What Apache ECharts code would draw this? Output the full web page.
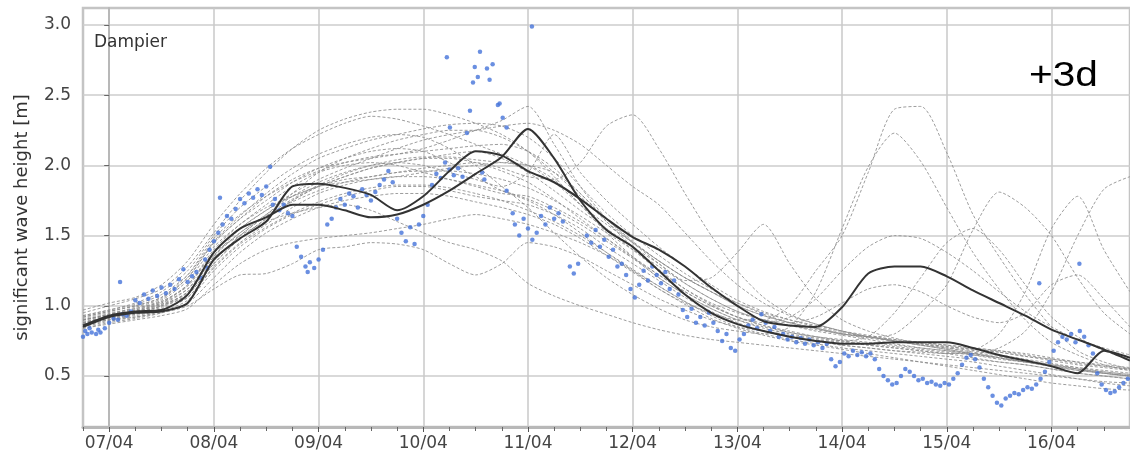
<!DOCTYPE html>
<html><head><meta charset="utf-8">
<script src="https://cdn.jsdelivr.net/npm/echarts@6/dist/echarts.min.js"></script>
<style>html,body{margin:0;padding:0;background:#fff}#chart{width:1130px;height:459px}</style>
</head><body><div id="chart"></div>
<script>
// lead time in hours from 07/04 00:00
const leadHours = [-6,0,6,12,18,24,30,36,42,48,54,60,66,72,78,84,90,96,102,108,114,120,126,132,138,144,150,156,162,168,174,180,186,192,198,204,210,216,222,228,234];
const dayTickHours = [0,24,48,72,96,120,144,168,192,216];
const dayTickLabels = ['07/04','08/04','09/04','10/04','11/04','12/04','13/04','14/04','15/04','16/04'];
const sixHourTicks = [-6,0,6,12,18,24,30,36,42,48,54,60,66,72,78,84,90,96,102,108,114,120,126,132,138,144,150,156,162,168,174,180,186,192,198,204,210,216,222,228,234];
const yTickValues = [0.5,1.0,1.5,2.0,2.5,3.0];

const member01 = [0.95,1.00,1.05,1.12,1.28,1.52,1.75,1.95,2.12,2.25,2.33,2.38,2.40,2.40,2.36,2.30,2.22,2.10,1.92,1.72,1.55,1.40,1.25,1.12,1.02,0.95,0.90,0.86,0.83,0.80,0.78,0.76,0.74,0.72,0.70,0.68,0.65,0.62,0.60,0.57,0.55];
const member02 = [0.88,0.90,0.92,0.95,1.00,1.12,1.22,1.23,1.30,1.40,1.42,1.45,1.44,1.40,1.30,1.22,1.30,1.45,1.42,1.35,1.25,1.15,1.05,0.97,0.90,0.85,0.82,0.79,0.76,0.74,0.72,0.70,0.68,0.66,0.63,0.60,0.58,0.55,0.52,0.50,0.48];
const member03 = [0.90,0.93,0.97,1.02,1.15,1.38,1.50,1.60,1.66,1.70,1.72,1.68,1.60,1.52,1.45,1.40,1.32,1.16,1.07,1.00,0.94,0.88,0.83,0.79,0.76,0.74,0.72,0.70,0.68,0.66,0.64,0.62,0.60,0.58,0.56,0.54,0.52,0.50,0.48,0.46,0.45];
const member04 = [0.92,0.96,1.00,1.06,1.20,1.45,1.62,1.78,1.90,1.98,2.02,2.05,2.08,2.12,2.18,2.25,2.32,2.42,2.15,1.85,1.62,1.45,1.30,1.16,1.05,0.96,0.90,0.86,0.82,0.79,0.76,0.73,0.70,0.68,0.66,0.63,0.60,0.57,0.54,0.52,0.50];
const member05 = [0.87,0.91,0.95,1.00,1.10,1.35,1.52,1.65,1.78,1.88,1.95,2.00,2.02,2.00,1.95,1.90,1.85,1.95,2.22,1.95,1.75,1.58,1.42,1.28,1.15,1.04,0.96,0.90,0.85,0.81,0.78,0.75,0.72,0.69,0.66,0.63,0.60,0.57,0.55,0.52,0.50];
const member06 = [0.90,0.94,0.98,1.04,1.18,1.42,1.58,1.70,1.78,1.85,1.90,1.92,1.95,1.98,2.00,2.02,1.98,1.92,1.90,2.02,2.28,2.36,2.12,1.80,1.50,1.25,1.06,0.94,0.87,0.82,0.78,0.75,0.72,0.69,0.66,0.63,0.60,0.58,0.55,0.53,0.51];
const member07 = [0.86,0.90,0.94,0.99,1.08,1.30,1.48,1.62,1.75,1.85,1.92,1.98,2.02,2.05,2.08,2.10,2.05,1.95,1.82,1.68,1.55,1.42,1.30,1.18,1.20,1.38,1.58,1.30,1.05,0.90,0.82,0.77,0.73,0.70,0.67,0.64,0.61,0.58,0.55,0.52,0.50];
const member08 = [0.90,0.94,0.99,1.05,1.20,1.45,1.62,1.75,1.88,1.98,2.05,2.10,2.12,2.10,2.02,1.92,1.82,1.75,1.65,1.52,1.38,1.25,1.12,1.02,0.95,0.90,0.90,1.00,1.25,1.50,1.95,2.40,2.42,2.09,1.65,1.35,1.08,0.85,0.68,0.60,0.55];
const member09 = [0.93,0.97,1.02,1.10,1.25,1.50,1.70,1.85,1.98,2.08,2.15,2.20,2.22,2.20,2.12,2.00,1.85,1.70,1.52,1.35,1.20,1.08,0.98,0.90,0.85,0.82,0.80,0.85,1.10,1.55,1.99,2.23,2.03,1.70,1.38,1.12,0.90,0.74,0.65,0.58,0.54];
const member10 = [0.88,0.92,0.96,1.02,1.12,1.32,1.50,1.65,1.80,1.95,2.05,2.12,2.18,2.22,2.25,2.25,2.20,2.10,1.95,1.78,1.60,1.45,1.32,1.20,1.10,1.00,0.93,0.88,0.84,0.80,0.78,0.80,0.95,1.15,1.54,1.81,1.70,1.50,1.20,0.95,0.80];
const member11 = [0.91,0.95,0.98,1.03,1.15,1.40,1.58,1.72,1.85,1.95,2.00,2.02,2.00,1.95,1.90,1.85,1.80,1.78,1.70,1.60,1.48,1.35,1.22,1.10,1.00,0.92,0.86,0.82,0.78,0.75,0.72,0.70,0.68,0.66,0.66,0.70,0.82,1.10,1.50,1.83,1.92];
const member12 = [0.85,0.89,0.92,0.96,1.04,1.25,1.42,1.55,1.65,1.72,1.78,1.82,1.85,1.85,1.82,1.78,1.75,1.72,1.65,1.55,1.42,1.30,1.18,1.06,0.96,0.88,0.82,0.78,0.75,0.72,0.70,0.68,0.66,0.64,0.62,0.60,0.58,0.55,0.52,0.50,0.48];
const member13 = [0.89,0.92,0.95,1.00,1.10,1.35,1.55,1.68,1.78,1.85,1.88,1.90,1.92,1.95,1.98,2.00,2.02,2.00,1.90,1.72,1.52,1.35,1.20,1.08,0.98,0.90,0.85,0.81,0.78,0.76,0.74,0.72,0.70,0.68,0.65,0.62,0.60,0.57,0.54,0.52,0.50];
const member14 = [0.97,1.02,1.06,1.15,1.32,1.58,1.80,1.98,2.12,2.22,2.30,2.35,2.33,2.28,2.22,2.15,2.08,2.00,1.88,1.72,1.58,1.45,1.32,1.20,1.10,1.00,0.93,0.88,0.84,0.80,0.78,0.75,0.73,0.71,0.69,0.67,0.64,0.61,0.58,0.56,0.54];
const member15 = [0.84,0.87,0.90,0.93,0.98,1.15,1.30,1.40,1.45,1.48,1.50,1.52,1.55,1.58,1.62,1.65,1.62,1.58,1.52,1.45,1.36,1.25,1.14,1.03,0.93,0.85,0.80,0.76,0.73,0.70,0.68,0.66,0.64,0.62,0.60,0.57,0.54,0.51,0.48,0.45,0.43];
const member16 = [0.92,0.96,1.00,1.06,1.22,1.48,1.65,1.78,1.88,1.96,2.02,2.06,2.08,2.10,2.12,2.14,2.15,2.10,1.98,1.80,1.62,1.46,1.32,1.20,1.10,1.02,0.95,0.90,0.86,0.82,0.79,0.76,0.74,0.72,0.70,0.68,0.66,0.63,0.60,0.58,0.56];
const member17 = [0.87,0.91,0.94,0.98,1.06,1.28,1.45,1.58,1.70,1.80,1.86,1.90,1.92,1.92,1.90,1.86,1.82,1.76,1.68,1.58,1.46,1.34,1.22,1.10,1.00,0.92,0.88,0.92,1.05,1.25,1.42,1.50,1.48,1.38,1.25,1.10,0.96,0.85,0.76,0.70,0.65];
const member18 = [0.90,0.94,0.97,1.03,1.14,1.38,1.55,1.68,1.80,1.90,1.98,2.05,2.12,2.18,2.22,2.25,2.28,2.30,2.25,2.15,2.00,1.85,1.72,1.52,1.32,1.15,1.02,0.93,0.87,0.82,0.78,0.75,0.72,0.70,0.68,0.65,0.62,0.59,0.56,0.53,0.51];
const member19 = [0.88,0.92,0.95,1.00,1.08,1.30,1.48,1.62,1.75,1.85,1.92,1.98,2.02,2.05,2.05,2.02,1.96,1.88,1.76,1.62,1.48,1.34,1.20,1.08,0.98,0.90,0.84,0.80,0.77,0.75,0.78,0.95,1.20,1.45,1.55,1.40,1.15,0.92,0.78,0.68,0.62];
const member20 = [0.86,0.90,0.93,0.97,1.06,1.27,1.44,1.56,1.66,1.74,1.80,1.84,1.86,1.86,1.84,1.80,1.75,1.68,1.60,1.50,1.38,1.26,1.14,1.03,0.94,0.87,0.82,0.78,0.75,0.72,0.70,0.68,0.67,0.66,0.68,0.80,1.10,1.55,1.78,1.40,1.10];
const member21 = [0.93,0.97,1.01,1.08,1.22,1.46,1.64,1.80,1.94,2.05,2.12,2.18,2.22,2.26,2.29,2.30,2.28,2.20,2.05,1.85,1.66,1.50,1.36,1.23,1.12,1.02,0.94,0.88,0.84,0.80,0.77,0.75,0.73,0.71,0.69,0.67,0.64,0.62,0.59,0.57,0.55];
const member22 = [0.84,0.88,0.91,0.95,1.02,1.20,1.38,1.52,1.62,1.70,1.75,1.78,1.80,1.80,1.78,1.74,1.70,1.65,1.58,1.48,1.36,1.24,1.12,1.01,0.91,0.84,0.79,0.75,0.72,0.69,0.66,0.63,0.60,0.57,0.54,0.51,0.48,0.45,0.43,0.41,0.40];
const member23 = [0.90,0.93,0.96,1.01,1.12,1.36,1.52,1.64,1.74,1.82,1.88,1.92,1.95,1.96,1.96,1.94,1.90,1.84,1.75,1.64,1.52,1.40,1.28,1.16,1.05,0.96,0.90,0.88,0.92,1.02,1.12,1.15,1.10,1.00,0.92,0.88,0.95,1.15,1.22,1.05,0.85];
const member24 = [0.88,0.92,0.96,1.01,1.09,1.32,1.50,1.64,1.76,1.86,1.94,2.00,2.04,2.06,2.06,2.04,2.02,2.00,1.95,1.80,1.60,1.42,1.26,1.12,1.01,0.92,0.86,0.81,0.78,0.75,0.73,0.71,0.69,0.67,0.65,0.63,0.60,0.58,0.56,0.54,0.52];

const controlA = [0.86,0.93,0.96,0.97,1.08,1.38,1.55,1.63,1.72,1.72,1.68,1.63,1.65,1.72,1.82,1.94,2.06,2.26,2.05,1.75,1.54,1.42,1.25,1.08,0.95,0.87,0.82,0.78,0.75,0.73,0.73,0.74,0.74,0.74,0.70,0.65,0.61,0.57,0.52,0.68,0.63];
const controlB = [0.85,0.92,0.95,0.96,1.02,1.33,1.48,1.60,1.85,1.87,1.84,1.79,1.68,1.78,1.96,2.10,2.07,1.96,1.88,1.76,1.62,1.49,1.40,1.28,1.13,1.00,0.89,0.86,0.85,0.99,1.23,1.28,1.28,1.21,1.11,1.02,0.93,0.83,0.76,0.69,0.61];

// observed significant wave height: [hour, metres]
const observed = [
[-6,0.78],[-5.5,0.82],[-5,0.80],[-4.5,0.84],[-4,0.81],[-3,0.80],[-2.5,0.83],[-2,0.81],[-1,0.84],[0,0.88],
[1,0.91],[2,0.90],[2.5,1.17],[3,0.94],[4,0.93],[5,0.96],[6,1.04],[7,1.02],[8,1.08],[9,1.05],[10,1.11],[11,1.07],[12,1.13],
[13,1.09],[14,1.15],[15,1.12],[16,1.19],[17,1.26],[18,1.17],[19,1.21],[20,1.24],[21,1.20],[22,1.33],[22.5,1.27],[23,1.40],[24,1.46],
[25,1.52],[25.4,1.77],[26,1.58],[27,1.64],[28,1.62],[29,1.69],[30,1.76],[31,1.73],[32,1.80],[33,1.77],[34,1.83],[35,1.79],[36,1.85],
[36.9,1.99],[37.5,1.72],[38,1.76],[39,1.68],[40,1.72],[41,1.66],[42,1.64],[43,1.42],[44,1.35],[45,1.28],[45.5,1.24],[46,1.31],[47,1.27],[48,1.33],
[49,1.40],[50,1.58],[51,1.62],[52,1.70],[53,1.76],[54,1.72],[55,1.80],[56,1.78],[57,1.70],[58,1.83],[59,1.79],[60,1.75],
[61,1.81],[62,1.86],[63,1.90],[64,1.96],[65,1.88],[66,1.62],[67,1.52],[68,1.46],[69,1.56],[70,1.44],[71,1.58],[72,1.64],
[73,1.72],[74,1.86],[75,1.94],[76,1.91],[77,2.02],[77.4,2.77],[78,1.97],[78.1,2.27],[79,1.93],[80,1.98],[81,1.92],[82,2.23],[82.7,2.39],[83.4,2.59],[83.8,2.70],[84.5,2.63],
[85,2.81],[85.5,1.95],[86,1.90],[86.6,2.69],[87.2,2.61],[87.9,2.72],[89.1,2.43],[89.5,2.44],[90.2,2.34],[91.1,2.27],[91.1,1.82],[92.5,1.66],[93,1.58],[94,1.50],[95,1.62],[96,1.55],[96.9,2.99],
[97,1.47],[98,1.52],[99,1.64],[100,1.58],[101,1.70],[102,1.62],[103,1.66],[104,1.60],[105.6,1.28],[106.5,1.23],[107.5,1.30],
[109.5,1.50],[110.5,1.45],[111.5,1.54],[112.5,1.42],[113.5,1.47],[114.5,1.35],[115.5,1.40],[116.5,1.28],[117.5,1.30],[118.5,1.22],[119.5,1.12],[120.5,1.06],
[121.5,1.15],[122.5,1.25],[123.5,1.18],[124.5,1.28],[125.5,1.22],[126.5,1.16],[127.5,1.24],[128.5,1.12],[129.5,1.18],[130.5,1.08],[131.5,0.97],[132.5,0.92],
[133.5,0.98],[134.5,0.88],[135.5,0.92],[136.5,0.86],[137.5,0.95],[138.5,0.88],[139.5,0.82],[140.5,0.75],[141.5,0.80],[142.5,0.70],[143.5,0.68],[144.5,0.76],
[145.5,0.80],[146.5,0.86],[147.5,0.90],[148.5,0.84],[149.5,0.94],[150.5,0.88],[151.5,0.82],[152.5,0.85],[153.5,0.78],[154.5,0.80],[155.5,0.76],
[156.5,0.78],[157.5,0.74],[158.5,0.77],[159.5,0.73],[160.5,0.76],[161.5,0.72],[162.5,0.74],[163.5,0.70],[164.5,0.73],[165.5,0.62],[166.5,0.57],[167.5,0.60],
[168.5,0.66],[169.5,0.64],[170.5,0.68],[171.5,0.65],[172.5,0.67],[173.5,0.64],[174.5,0.66],[175.5,0.62],[176.5,0.55],[177.5,0.50],[178.5,0.47],[179.5,0.44],
[180.5,0.45],[181.5,0.50],[182.5,0.55],[183.5,0.53],[184.5,0.50],[185.5,0.47],[186.5,0.48],[187.5,0.45],[188.5,0.46],[189.5,0.44],[190.5,0.43],[191.5,0.45],
[192.5,0.44],[193.5,0.48],[194.5,0.52],[195.5,0.58],[196.5,0.63],[197.5,0.65],[198.5,0.62],[199.5,0.56],[200.5,0.48],[201.5,0.42],[202.5,0.36],[203.5,0.31],
[204.5,0.29],[205.5,0.34],[206.5,0.36],[207.5,0.38],[208.5,0.37],[209.5,0.40],[210.5,0.42],[211.5,0.41],[212.5,0.44],[213.5,0.48],[213.2,1.16],[214.5,0.53],[215.5,0.60],
[216.5,0.68],[217.5,0.74],[218.5,0.78],[219.5,0.76],[220.5,0.80],[221.5,0.74],[222.4,1.30],[222.5,0.82],[223.5,0.78],[224.5,0.72],[225.5,0.66],[226.5,0.52],[227.5,0.44],
[228.5,0.40],[229.5,0.38],[230.5,0.39],[231.5,0.42],[232.5,0.45],[233.5,0.48]
];

const members = [member01,member02,member03,member04,member05,member06,member07,member08,member09,member10,member11,member12,member13,member14,member15,member16,member17,member18,member19,member20,member21,member22,member23,member24];
const toPairs = arr => leadHours.map((h, i) => [h, arr[i]]);

const series = [];
members.forEach((m, k) => {
  series.push({
    type: 'line', name: 'member' + (k + 1), data: toPairs(m), xAxisIndex: 0,
    showSymbol: false, smooth: 0.25, silent: true, z: 2,
    lineStyle: { color: '#8c8c8c', width: 1, type: [3, 2], opacity: 0.85 }
  });
});
[controlA, controlB].forEach((m, k) => {
  series.push({
    type: 'line', name: 'control' + (k + 1), data: toPairs(m), xAxisIndex: 0,
    showSymbol: false, smooth: 0.25, silent: true, z: 4,
    lineStyle: { color: '#333333', width: 2 }
  });
});
series.push({
  type: 'scatter', name: 'observed', data: observed, xAxisIndex: 0,
  symbolSize: 4.5, silent: true, z: 3,
  itemStyle: { color: '#4573d9' }
});

const chart = echarts.init(document.getElementById('chart'), null, { renderer: 'canvas' });
chart.setOption({
  animation: false,
  backgroundColor: '#ffffff',
  title: {
    text: 'Dampier', left: 94, top: 34, padding: 0,
    textStyle: { fontFamily: 'DejaVu Sans', fontSize: 17, fontWeight: 'normal', color: '#333' }
  },
  graphic: [{
    type: 'text', left: 1029, top: 59, scaleX: 1.16, z: 100,
    style: { text: '+3d', fontFamily: 'Liberation Sans', fontSize: 35, fill: '#000' }
  }],
  grid: { left: 83, top: 8, right: -2, bottom: 32, show: true, borderColor: '#c4c4c4', borderWidth: 2.5, containLabel: false },
  xAxis: [{
    type: 'value', min: -6, max: 234, position: 'bottom',
    axisLine: { show: true, lineStyle: { color: '#b8b8b8', width: 3 } },
    axisTick: { show: true, customValues: sixHourTicks, length: 4, lineStyle: { color: '#666', width: 1 } },
    axisLabel: { show: false },
    splitLine: { show: false }
  }, {
    type: 'value', min: -6, max: 234, position: 'bottom',
    axisLine: { show: false },
    axisTick: { show: true, customValues: dayTickHours, length: 5, lineStyle: { color: '#555', width: 1 } },
    axisLabel: {
      show: true, customValues: dayTickHours, margin: 8,
      fontFamily: 'DejaVu Sans', fontSize: 17, color: '#444',
      formatter: v => dayTickLabels[dayTickHours.indexOf(v)]
    },
    splitLine: { show: true, lineStyle: { color: '#c8c8c8', width: 1.5 } }
  }],
  yAxis: {
    type: 'value', min: 0.137, max: 3.121,
    name: 'significant wave height [m]', nameLocation: 'middle', nameGap: 52, nameRotate: 90,
    nameTextStyle: { fontFamily: 'DejaVu Sans', fontSize: 18, color: '#333' },
    axisLine: { show: true, lineStyle: { color: '#b8b8b8', width: 2 } },
    axisTick: { show: true, customValues: yTickValues, length: 5, lineStyle: { color: '#666' } },
    axisLabel: {
      customValues: yTickValues, margin: 12,
      fontFamily: 'DejaVu Sans', fontSize: 17, color: '#444',
      formatter: v => v.toFixed(1)
    },
    splitLine: { show: true, lineStyle: { color: '#cccccc', width: 1.5 } }
  },
  series: series
});
</script></body></html>
